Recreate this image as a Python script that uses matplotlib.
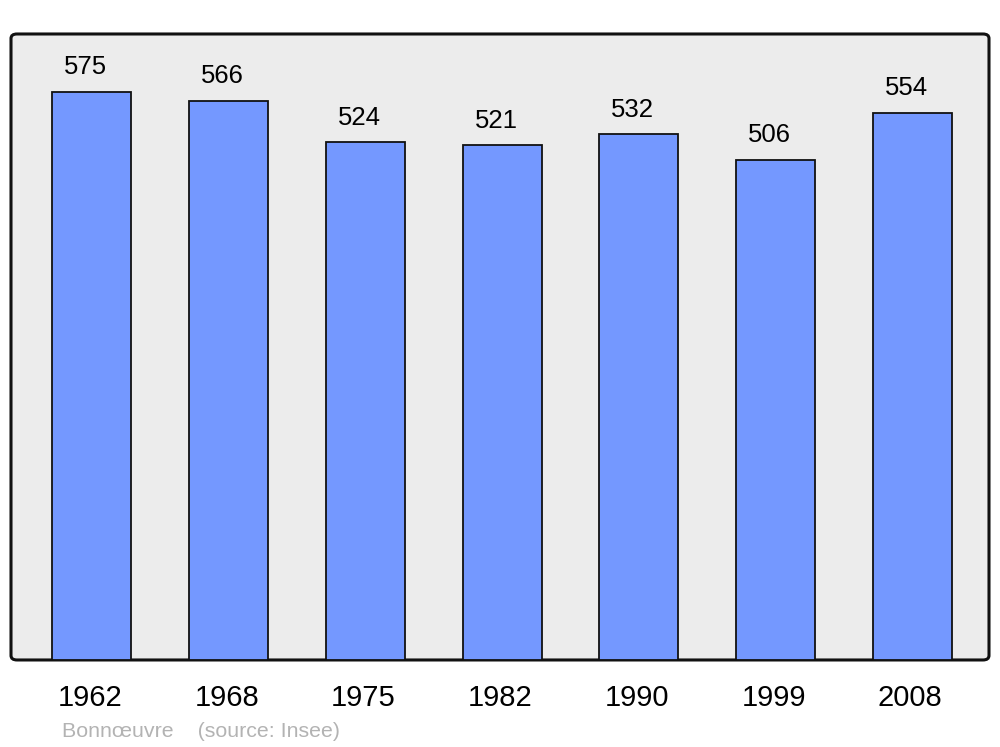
import matplotlib.pyplot as plt
from matplotlib.patches import FancyBboxPatch

plt.rcParams['font.family'] = ['Liberation Sans', 'DejaVu Sans']

years = ['1962', '1968', '1975', '1982', '1990', '1999', '2008']
population = [575, 566, 524, 521, 532, 506, 554]

BAR_COLOR = '#7498ff'
BG_COLOR = '#ececec'

fig = plt.figure(figsize=(10, 7.47), dpi=100)

# rounded frame behind the axes
frame = FancyBboxPatch((0.011, 0.1165), 0.978, 0.838,
                       boxstyle='round,pad=0,rounding_size=0.006',
                       transform=fig.transFigure, facecolor=BG_COLOR,
                       edgecolor='#111111', linewidth=2.2, zorder=-1)
fig.patches.append(frame)

ax = fig.add_axes([0.011, 0.1165, 0.978, 0.838])
ax.set_zorder(1)
ax.set_facecolor('none')
for spine in ax.spines.values():
    spine.set_visible(False)

x = list(range(len(years)))
bars = ax.bar(x, population, width=0.578, color=BAR_COLOR,
              edgecolor='#111111', linewidth=1.3, zorder=2)

for xi, val in zip(x, population):
    ax.text(xi - 0.045, val + 25, str(val), ha='center', va='center',
            fontsize=18.5, color='black')

ax.set_xlim(-0.592, 6.56)
ax.set_ylim(0, 633.6)
ax.set_yticks([])
ax.set_xticks([xi - 0.015 for xi in x])
ax.set_xticklabels(years, fontsize=21)
ax.tick_params(axis='x', length=0, pad=17)

fig.text(0.062, 0.021, 'Bonnœuvre    (source: Insee)', fontsize=15.4,
         color='#b3b3b3', ha='left', va='center')

fig.savefig('out.png', dpi=100)
